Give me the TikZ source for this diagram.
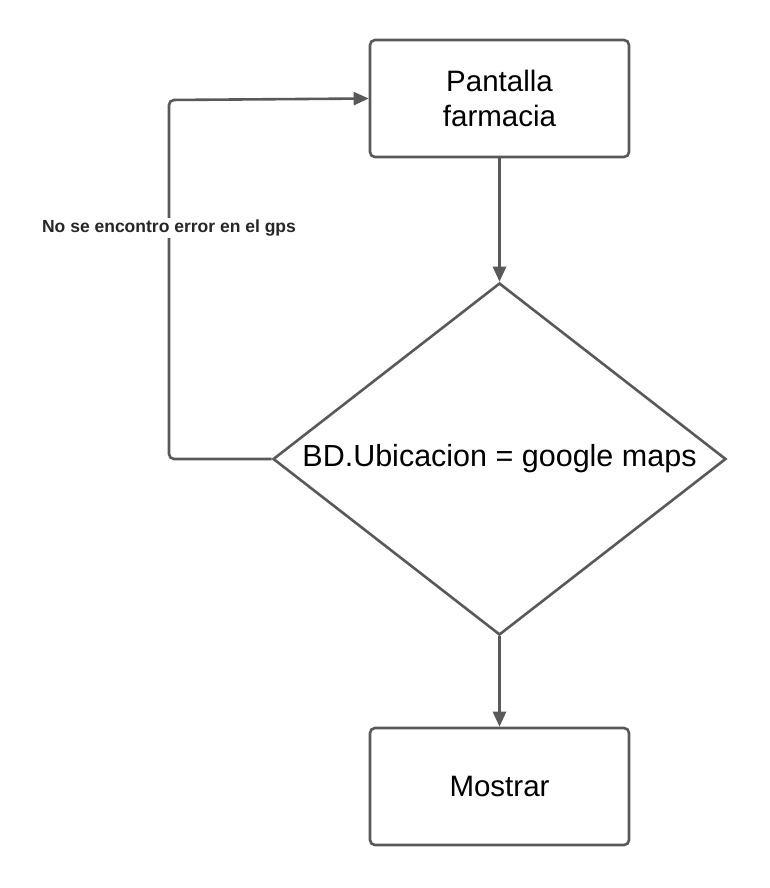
\documentclass[tikz,border=0pt]{standalone}
\usepackage{fontspec}
\setmainfont{Liberation Sans}
\usetikzlibrary{arrows.meta,shapes.geometric}
\definecolor{ln}{HTML}{595959}
\begin{document}
\begin{tikzpicture}[x=1pt,y=-1pt,
  line/.style={draw=ln,line width=2.6pt},
  arr/.style={line,-{Triangle[length=15pt,width=13pt]}},
  box/.style={line,rounded corners=5pt,minimum width=259pt,minimum height=117pt,inner sep=0pt,align=center,font=\fontsize{29.5}{35}\selectfont},
  dec/.style={line,diamond,minimum width=453pt,minimum height=352pt,inner sep=0pt,shape aspect=1.29,font=\fontsize{30.5}{35}\selectfont},
  lbl/.style={fill=white,inner sep=1.5pt,font=\bfseries\fontsize{17.5}{20}\selectfont,text=black!85}]
\useasboundingbox (0,0) rectangle (769,888);
\node[box] (a) at (499.5,98.5) {Pantalla\\farmacia};
\node[dec] (d) at (499.5,459) {BD.Ubicacion = google maps};
\node[box] (b) at (499.5,786.5) {Mostrar};
\coordinate (c1) at (169,459);
\coordinate (c2) at (169,100);
\draw[arr] (a.south) -- (d.north);
\draw[arr] (d.south) -- (b.north);
\draw[arr,rounded corners=5pt] (d.west) -- (c1) -- (c2) -- (a.west);
\node[lbl] (l) at (169,228) {No se encontro error en el gps};
\end{tikzpicture}
\end{document}
